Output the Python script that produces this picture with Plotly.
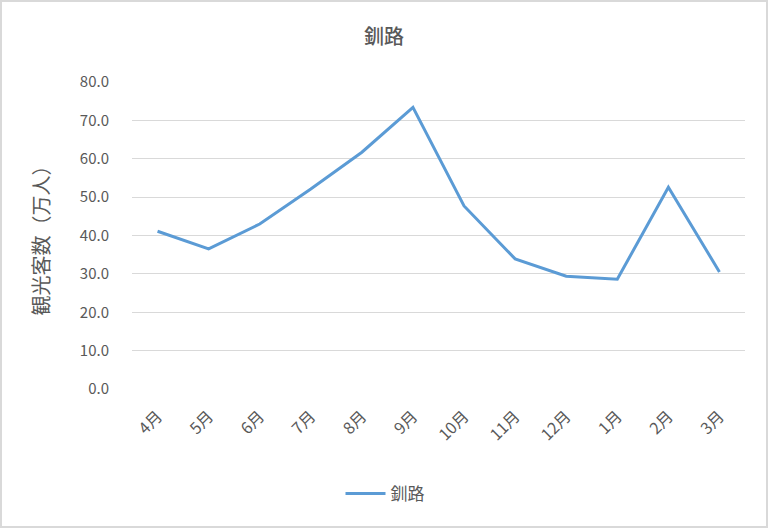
import plotly.graph_objects as go

months = ["4月", "5月", "6月", "7月", "8月", "9月", "10月", "11月", "12月", "1月", "2月", "3月"]
visitors = [41.1, 36.5, 43.0, 52.1, 61.7, 73.4, 47.7, 33.9, 29.4, 28.6, 52.6, 30.5]
series_name = "釧路"
y_title = "観光客数（万人）"

W, H = 768, 528
ML, MR, MT, MB = 132, 23, 82, 139
pw, ph = W - ML - MR, H - MT - MB

def px_x(p):
    return (p - ML) / pw

def px_y(p):
    return (H - MB - p) / ph

font = "Noto Sans CJK JP"
gray = "#595959"

fig = go.Figure()
fig.add_trace(go.Scatter(
    x=months, y=visitors, mode="lines", name=series_name,
    line=dict(color="#5b9bd5", width=3),
))

fig.update_layout(
    width=W, height=H,
    margin=dict(l=ML, r=MR, t=MT, b=MB),
    paper_bgcolor="white", plot_bgcolor="white",
    font=dict(family=font, color=gray),
    title=dict(text=series_name, x=0.5, xanchor="center", y=1 - 37 / H, yanchor="middle",
               font=dict(size=20, color=gray, family=font, weight=500)),
    showlegend=True,
    legend=dict(orientation="h", x=px_x(385), xanchor="center", y=px_y(494), yanchor="middle",
                font=dict(size=17, color=gray), itemwidth=40),
    xaxis=dict(type="category", tickangle=-45, tickfont=dict(size=16, color=gray),
               showgrid=False, showline=False, ticks="", range=[-0.5, 11.5],
               ticklabelstandoff=14),
    yaxis=dict(range=[0, 80], dtick=10, tickformat=".1f", tickfont=dict(size=15, color=gray),
               showgrid=True, gridcolor="#d9d9d9", gridwidth=1, zeroline=False,
               showline=False, ticks="", ticklabelstandoff=22,
               title=dict(text=y_title, font=dict(size=20, color=gray), standoff=24)),
    shapes=[dict(type="rect", xref="paper", yref="paper",
                 x0=px_x(1), x1=px_x(767), y0=px_y(527), y1=px_y(1),
                 line=dict(color="#d9d9d9", width=2), fillcolor="rgba(0,0,0,0)", layer="below")],
)

fig.write_html("out.html", config={"displayModeBar": False},
               post_script="document.body.style.margin='0';document.body.style.overflow='hidden';")
